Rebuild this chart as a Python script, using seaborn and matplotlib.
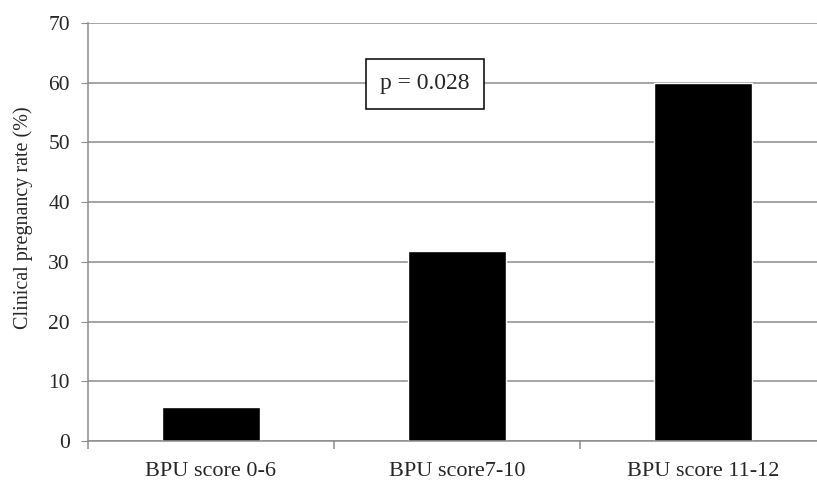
import matplotlib
matplotlib.use("Agg")
import matplotlib.pyplot as plt
import seaborn as sns
import pandas as pd
from matplotlib.ticker import FixedLocator

# Data
groups = ["BPU score 0-6", "BPU score7-10", "BPU score 11-12"]
rates = [5.7, 31.8, 60.0]
p_text = "p = 0.028"

df = pd.DataFrame({"group": groups, "rate": rates})

sns.set_style("white")
plt.rcParams["font.family"] = ["Liberation Serif", "DejaVu Serif"]

fig = plt.figure(figsize=(8.17, 4.84), dpi=100)
# axes runs a bit past the right edge, like the cropped original
ax = fig.add_axes([88 / 817, 43 / 484, 738 / 817, 418 / 484])

sns.barplot(data=df, x="group", y="rate", color="black", width=0.4,
            saturation=1, ax=ax)

ax.set_xlim(-0.5, 2.5)
ax.set_ylim(0, 70)
ax.set_yticks(range(0, 71, 10))
ax.yaxis.grid(True, color="#8c8c8c", linewidth=1.1)
ax.set_axisbelow(True)

for side in ["top", "right"]:
    ax.spines[side].set_visible(False)
for side in ["left", "bottom"]:
    ax.spines[side].set_color("#8c8c8c")
    ax.spines[side].set_linewidth(1.1)

ax.tick_params(axis="y", left=True, length=5, color="#8c8c8c",
               labelsize=15.5, pad=8)
ax.tick_params(axis="x", which="major", length=0, labelsize=16, pad=15)
ax.xaxis.set_minor_locator(FixedLocator([-0.5, 0.5, 1.5, 2.5]))
ax.tick_params(axis="x", which="minor", bottom=True, length=6,
               color="#8c8c8c", width=1.1)

ax.set_xlabel("")
ax.set_ylabel("Clinical pregnancy rate (%)", fontsize=14.5)
ax.yaxis.set_label_coords(-0.075, 0.535)

ax.text(0.87, 59.8, p_text, ha="center", va="center", fontsize=17,
        bbox=dict(boxstyle="square,pad=0.6", facecolor="white",
                  edgecolor="black", linewidth=1.1))

fig.savefig("out.png", dpi=100)
